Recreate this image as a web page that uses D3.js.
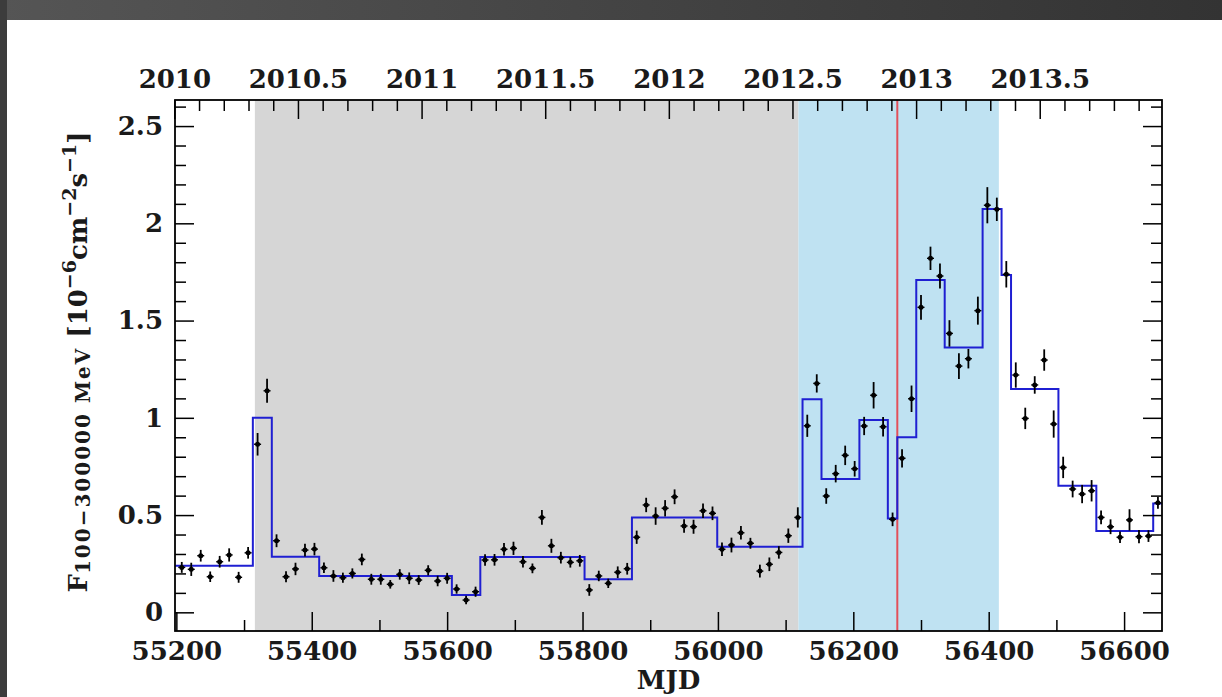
<!DOCTYPE html>
<html>
<head>
<meta charset="utf-8">
<script src="https://cdn.jsdelivr.net/npm/d3@7"></script>
<style>
  body { margin: 0; background: #ffffff; }
  svg { display: block; }
</style>
</head>
<body>
<svg id="chart" width="1222" height="697"></svg>
<script>
// 14-day binned gamma-ray light curve (bin centres in MJD)
const mjd = [55208, 55222, 55236, 55250, 55264, 55278, 55292, 55306, 55320, 55334,
  55348, 55362, 55376, 55390, 55404, 55418, 55432, 55446, 55460, 55474,
  55488, 55502, 55516, 55530, 55544, 55558, 55572, 55586, 55600, 55614,
  55628, 55642, 55656, 55670, 55684, 55698, 55712, 55726, 55740, 55754,
  55768, 55782, 55796, 55810, 55824, 55838, 55852, 55866, 55880, 55894,
  55908, 55922, 55936, 55950, 55964, 55978, 55992, 56006, 56020, 56034,
  56048, 56062, 56076, 56090, 56104, 56118, 56132, 56146, 56160, 56174,
  56188, 56202, 56216, 56230, 56244, 56258, 56272, 56286, 56300, 56314,
  56328, 56342, 56356, 56370, 56384, 56398, 56412, 56426, 56440, 56454,
  56468, 56482, 56496, 56510, 56524, 56538, 56552, 56566, 56580, 56594,
  56608, 56622, 56636, 56650];

// Flux 100 MeV - 300 GeV, in 1e-6 ph cm^-2 s^-1
const flux = [0.231, 0.221, 0.291, 0.183, 0.260, 0.295, 0.180, 0.306, 0.864, 1.139,
  0.368, 0.183, 0.223, 0.320, 0.325, 0.229, 0.187, 0.178, 0.200, 0.272,
  0.170, 0.170, 0.144, 0.195, 0.175, 0.166, 0.216, 0.161, 0.175, 0.120,
  0.063, 0.106, 0.269, 0.270, 0.324, 0.329, 0.260, 0.226, 0.488, 0.342,
  0.281, 0.257, 0.265, 0.115, 0.187, 0.149, 0.206, 0.224, 0.386, 0.552,
  0.495, 0.535, 0.594, 0.444, 0.440, 0.522, 0.509, 0.324, 0.346, 0.409,
  0.355, 0.212, 0.247, 0.308, 0.394, 0.488, 0.959, 1.177, 0.598, 0.713,
  0.807, 0.738, 0.958, 1.116, 0.954, 0.478, 0.792, 1.098, 1.568, 1.820,
  1.729, 1.434, 1.266, 1.304, 1.551, 2.093, 2.072, 1.738, 1.220, 0.997,
  1.169, 1.297, 0.968, 0.745, 0.634, 0.608, 0.625, 0.488, 0.440, 0.386,
  0.475, 0.389, 0.392, 0.563];

const fluxErr = [0.028, 0.034, 0.030, 0.027, 0.030, 0.034, 0.028, 0.030, 0.058, 0.062,
  0.033, 0.028, 0.032, 0.033, 0.032, 0.027, 0.030, 0.026, 0.026, 0.030,
  0.028, 0.028, 0.022, 0.027, 0.030, 0.025, 0.026, 0.027, 0.028, 0.024,
  0.022, 0.026, 0.030, 0.030, 0.032, 0.034, 0.030, 0.025, 0.038, 0.036,
  0.030, 0.027, 0.030, 0.030, 0.027, 0.024, 0.030, 0.030, 0.034, 0.037,
  0.045, 0.042, 0.038, 0.035, 0.036, 0.037, 0.035, 0.035, 0.038, 0.035,
  0.028, 0.033, 0.035, 0.032, 0.037, 0.052, 0.057, 0.047, 0.040, 0.045,
  0.050, 0.040, 0.047, 0.068, 0.050, 0.035, 0.047, 0.068, 0.064, 0.060,
  0.064, 0.068, 0.066, 0.050, 0.072, 0.093, 0.060, 0.068, 0.065, 0.055,
  0.045, 0.055, 0.070, 0.055, 0.043, 0.047, 0.055, 0.035, 0.038, 0.030,
  0.055, 0.034, 0.030, 0.030];

// Bayesian-block representation: edges (MJD) and block flux levels
const blockEdges = [55198, 55313, 55341, 55411, 55607, 55649, 55803, 55873, 55999,
  56125, 56153, 56209, 56251, 56265, 56293, 56335, 56391, 56419, 56433,
  56503, 56559, 56643, 56656];
const blockFlux = [0.240, 1.000, 0.286, 0.187, 0.089, 0.285, 0.170, 0.488, 0.337,
  1.095, 0.685, 0.989, 0.483, 0.900, 1.709, 1.362, 2.074, 1.734, 1.148,
  0.651, 0.418, 0.560];

// Highlighted periods and marker
const grayPeriod = [55316, 56119];
const bluePeriod = [56119, 56415];
const markerMJD = 56265;

// Axis ticks
const mjdTicks = [55200, 55400, 55600, 55800, 56000, 56200, 56400, 56600];
const fluxTicks = [0, 0.5, 1, 1.5, 2, 2.5];
const fluxTickLabels = ["0", "0.5", "1", "1.5", "2", "2.5"];
const yearTicks = [2010, 2010.5, 2011, 2011.5, 2012, 2012.5, 2013, 2013.5];

const mjdDomain = [55198, 56656];
const fluxDomain = [-0.096, 2.634];

const svg = d3.select("#chart");
const W = 1222, H = 697;
const margin = { left: 175, top: 100, right: 60, bottom: 66 };
const iw = W - margin.left - margin.right;
const ih = H - margin.top - margin.bottom;

// Dark surround at the top and left edges
const grad = svg.append("defs").append("linearGradient").attr("id", "bandGrad");
grad.append("stop").attr("offset", "0%").attr("stop-color", "#555555");
grad.append("stop").attr("offset", "100%").attr("stop-color", "#333333");
svg.append("rect").attr("x", 0).attr("y", 0).attr("width", W).attr("height", 20).attr("fill", "url(#bandGrad)");
svg.append("rect").attr("x", 0).attr("y", 0).attr("width", 7).attr("height", H).attr("fill", "#3c3c3c");

const x = d3.scaleLinear().domain(mjdDomain).range([0, iw]);
const y = d3.scaleLinear().domain(fluxDomain).range([ih, 0]);
// decimal year scale aligned with MJD (2010.0 = MJD 55197)
const xYear = d3.scaleLinear()
  .domain([(mjdDomain[0] - 55197) / 365.25 + 2010, (mjdDomain[1] - 55197) / 365.25 + 2010])
  .range([0, iw]);

const g = svg.append("g").attr("transform", `translate(${margin.left},${margin.top})`);

g.append("clipPath").attr("id", "plotclip")
  .append("rect").attr("width", iw).attr("height", ih);

const plot = g.append("g").attr("clip-path", "url(#plotclip)");

plot.append("rect")
  .attr("x", x(grayPeriod[0])).attr("y", 0)
  .attr("width", x(grayPeriod[1]) - x(grayPeriod[0])).attr("height", ih)
  .attr("fill", "#d6d6d6");
plot.append("rect")
  .attr("x", x(bluePeriod[0])).attr("y", 0)
  .attr("width", x(bluePeriod[1]) - x(bluePeriod[0])).attr("height", ih)
  .attr("fill", "#bfe2f2");

plot.append("line")
  .attr("x1", x(markerMJD)).attr("x2", x(markerMJD))
  .attr("y1", 0).attr("y2", ih)
  .attr("stroke", "#e2505a").attr("stroke-width", 2);

// Step line for the blocks
const stepPts = [];
blockFlux.forEach((v, i) => {
  stepPts.push([blockEdges[i], v]);
  stepPts.push([blockEdges[i + 1], v]);
});
plot.append("path")
  .datum(stepPts)
  .attr("fill", "none")
  .attr("stroke", "#1f1fd2")
  .attr("stroke-width", 2)
  .attr("d", d3.line().x(d => x(d[0])).y(d => y(d[1])));

// Data points with error bars
const pts = mjd.map((m, i) => ({ m, f: flux[i], e: fluxErr[i] }));
const pg = plot.append("g").selectAll("g").data(pts).join("g");
pg.append("line")
  .attr("x1", d => x(d.m)).attr("x2", d => x(d.m))
  .attr("y1", d => y(d.f - d.e)).attr("y2", d => y(d.f + d.e))
  .attr("stroke", "#000").attr("stroke-width", 1.8);
pg.append("line")
  .attr("x1", d => x(d.m) - 3.5).attr("x2", d => x(d.m) + 3.5)
  .attr("y1", d => y(d.f)).attr("y2", d => y(d.f))
  .attr("stroke", "#000").attr("stroke-width", 1.4);
pg.append("circle")
  .attr("cx", d => x(d.m)).attr("cy", d => y(d.f)).attr("r", 2.5)
  .attr("fill", "#000");

// Axes
const fontFam = "'DejaVu Serif', serif";
function styleAxis(sel) {
  sel.select(".domain").remove();
  sel.selectAll(".tick line").attr("stroke", "#000").attr("stroke-width", 1.5);
  sel.selectAll(".tick text")
    .attr("fill", "#1a1a1a")
    .style("font-family", fontFam)
    .style("font-weight", "bold")
    .style("font-size", "26px");
}

const majorLen = 19, minorLen = 11;
const mjdMinor = d3.range(55300, 56656, 200);
const fluxMinor = d3.range(0, 27).map(k => k / 10)
  .filter(v => !fluxTicks.some(t => Math.abs(t - v) < 1e-9) && v <= fluxDomain[1]);
const yearMinor = d3.range(0, 41).map(k => 2010 + k / 10)
  .filter(v => !yearTicks.some(t => Math.abs(t - v) < 1e-9) && v <= xYear.domain()[1] && v >= 2010);

// bottom
g.append("g").attr("transform", `translate(0,${ih})`)
  .call(d3.axisBottom(x).tickValues(mjdTicks).tickFormat(d3.format("d")).tickSize(-majorLen).tickPadding(11))
  .call(styleAxis);
g.append("g").attr("transform", `translate(0,${ih})`)
  .call(d3.axisBottom(x).tickValues(mjdMinor).tickFormat("").tickSize(-minorLen))
  .call(styleAxis);

// top (calendar year)
g.append("g")
  .call(d3.axisTop(xYear).tickValues(yearTicks).tickFormat(d => String(d)).tickSize(-majorLen).tickPadding(12))
  .call(styleAxis);
g.append("g")
  .call(d3.axisTop(xYear).tickValues(yearMinor).tickFormat("").tickSize(-minorLen))
  .call(styleAxis);

// left
g.append("g")
  .call(d3.axisLeft(y).tickValues(fluxTicks).tickFormat((d, i) => fluxTickLabels[i]).tickSize(-majorLen).tickPadding(12))
  .call(styleAxis);
g.append("g")
  .call(d3.axisLeft(y).tickValues(fluxMinor).tickFormat("").tickSize(-minorLen))
  .call(styleAxis);

// right
g.append("g").attr("transform", `translate(${iw},0)`)
  .call(d3.axisRight(y).tickValues(fluxTicks).tickFormat("").tickSize(-majorLen))
  .call(styleAxis);
g.append("g").attr("transform", `translate(${iw},0)`)
  .call(d3.axisRight(y).tickValues(fluxMinor).tickFormat("").tickSize(-minorLen))
  .call(styleAxis);

// frame
g.append("rect").attr("width", iw).attr("height", ih)
  .attr("fill", "none").attr("stroke", "#000").attr("stroke-width", 1.8);

// Axis titles
g.append("text")
  .attr("x", iw / 2).attr("y", ih + 58)
  .attr("text-anchor", "middle")
  .style("font-family", fontFam).style("font-weight", "bold").style("font-size", "26px")
  .attr("fill", "#1a1a1a")
  .text("MJD");

const yl = svg.append("text")
  .attr("transform", "translate(87,362) rotate(-90)")
  .attr("text-anchor", "middle")
  .style("font-family", fontFam).style("font-weight", "bold")
  .attr("fill", "#1a1a1a");
yl.append("tspan").style("font-size", "26px").text("F");
yl.append("tspan").style("font-size", "20px").attr("dy", 3).attr("letter-spacing", "2px").text("100\u2212300000 MeV");
yl.append("tspan").style("font-size", "26px").attr("dy", -3).text(" [10");
yl.append("tspan").style("font-size", "19px").attr("dy", -11).text("\u22126");
yl.append("tspan").style("font-size", "26px").attr("dy", 11).text("cm");
yl.append("tspan").style("font-size", "19px").attr("dy", -11).text("\u22122");
yl.append("tspan").style("font-size", "26px").attr("dy", 11).text("s");
yl.append("tspan").style("font-size", "19px").attr("dy", -11).text("\u22121");
yl.append("tspan").style("font-size", "26px").attr("dy", 11).text("]");
</script>
</body>
</html>
